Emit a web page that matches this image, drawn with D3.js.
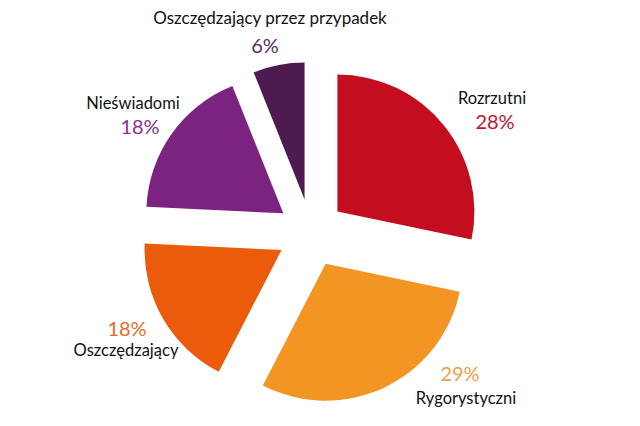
<!DOCTYPE html>
<html>
<head>
<meta charset="utf-8">
<script src="https://cdn.jsdelivr.net/npm/d3@7"></script>
<style>
  html, body { margin: 0; padding: 0; background: #ffffff; }
  svg { display: block; }
  text { font-family: Lato, "Open Sans", sans-serif; }
</style>
</head>
<body>
<svg id="chart" width="640" height="426"></svg>
<script>
// ---- data ----
const categories = ["Rozrzutni", "Rygorystyczni", "Oszczędzający", "Nieświadomi", "Oszczędzający przez przypadek"];
const values = [28, 29, 18, 18, 6];
const valueLabels = ["28%", "29%", "18%", "18%", "6%"];

// ---- styles / layout ----
const sliceColors = ["#c40d1e", "#f39522", "#ec5a0b", "#7c2382", "#4e1b50"];
const pctColors = ["#c8102e", "#f0a04b", "#e8692a", "#8a3292", "#5a2b5e"];
// [name x, name y, pct x, pct y]
const labelLayout = [
  [492, 104, 495, 129],
  [466, 404, 460, 381],
  [126, 356, 127, 336],
  [133, 109, 140, 134],
  [270, 24, 265, 53]
];

const width = 640, height = 426;
const cx = 311, cy = 233, radius = 137, explode = 34;

const svg = d3.select("#chart");
const g = svg.append("g").attr("transform", `translate(${cx},${cy})`);

const pie = d3.pie().sort(null).value(d => d);
const arcs = pie(values);
const arc = d3.arc().innerRadius(0).outerRadius(radius);

g.selectAll("path.slice")
  .data(arcs)
  .join("path")
  .attr("class", "slice")
  .attr("fill", (d, i) => sliceColors[i])
  .attr("transform", d => {
    const mid = (d.startAngle + d.endAngle) / 2;
    return `translate(${Math.sin(mid) * explode},${-Math.cos(mid) * explode})`;
  })
  .attr("d", arc);

// labels
const lab = svg.append("g");
categories.forEach((c, i) => {
  const L = labelLayout[i];
  lab.append("text")
    .attr("x", L[0]).attr("y", L[1])
    .attr("text-anchor", "middle")
    .attr("font-size", i === 4 ? 17 : 16.5)
    .attr("fill", "#111111")
    .text(c);
  lab.append("text")
    .attr("x", L[2]).attr("y", L[3])
    .attr("text-anchor", "middle")
    .attr("font-size", 20)
    .attr("fill", pctColors[i])
    .text(valueLabels[i]);
});
</script>
</body>
</html>
